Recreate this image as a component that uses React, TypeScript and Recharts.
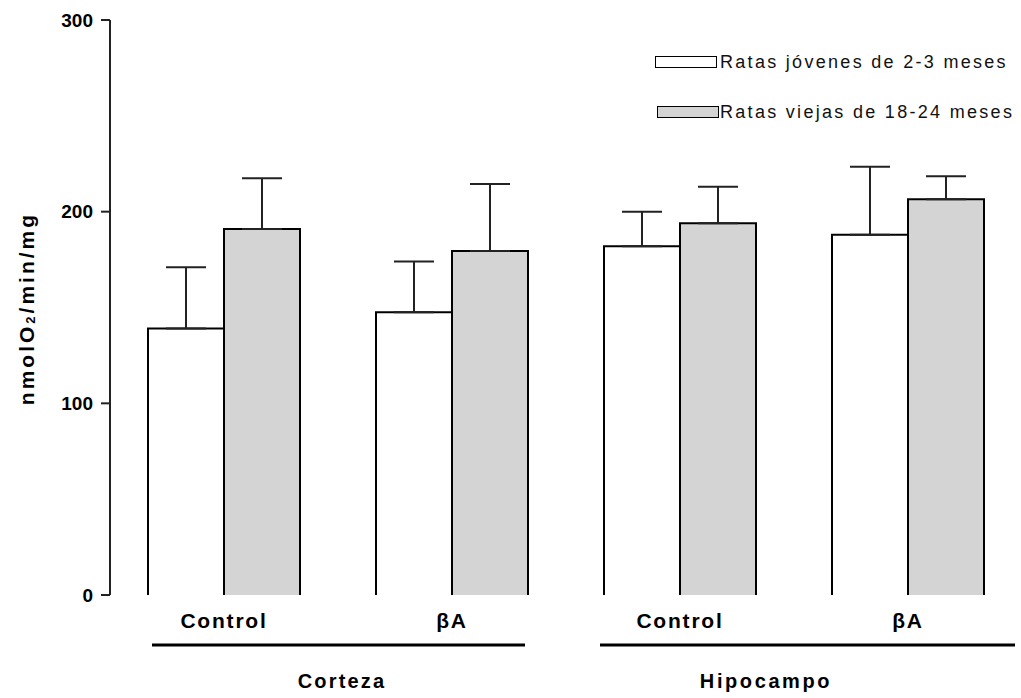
import * as React from "react"
import { BarChart, Bar, XAxis, YAxis, ErrorBar, Legend } from "recharts"

const categories = ["Control", "βA", "Control", "βA"]
const groups = ["Corteza", "Hipocampo"]
const young = [139, 147.5, 182, 188]
const youngErr = [32, 26.5, 18, 35.5]
const old = [191, 179.5, 194, 206.5]
const oldErr = [26.5, 35, 19, 12]
const yTicks = [0, 100, 200, 300]

const data = categories.map((c, i) => ({
    cat: c,
    young: young[i],
    youngErr: [0, youngErr[i]],
    old: old[i],
    oldErr: [0, oldErr[i]],
}))

const FONT = "'Liberation Sans', Arial, sans-serif"
const W = 1024
const LEFT = 110
const RIGHT = 2
const BAND = (W - LEFT - RIGHT) / categories.length

// bar with no bottom edge
const OpenBar = (p: any) => {
    const { x, y, width, height, fill } = p
    if (height == null) return null
    return (
        <g>
            <rect x={x} y={y} width={width} height={height} fill={fill} />
            <path
                d={`M${x},${y + height}V${y}H${x + width}V${y + height}`}
                fill="none"
                stroke="#000"
                strokeWidth={2}
            />
        </g>
    )
}

const CatTick = (p: any) => {
    const { x, y, payload, index } = p
    const isFirst = index % 2 === 0
    const g = Math.floor(index / 2)
    return (
        <g>
            <text
                x={x}
                y={y + 33}
                textAnchor="middle"
                fontFamily={FONT}
                fontWeight="bold"
                fontSize={21}
                letterSpacing={1.8}
                fill="#000"
            >
                {payload.value}
            </text>
            {isFirst && g === 0 && (
                <g>
                    <line x1={x - 72} x2={x + BAND + 73} y1={y + 50} y2={y + 50} stroke="#000" strokeWidth={3} />
                    <text x={x + BAND / 2 + 4} y={y + 93} textAnchor="middle" fontFamily={FONT} fontWeight="bold" fontSize={20} letterSpacing={2.2} fill="#000">
                        {groups[g]}
                    </text>
                </g>
            )}
            {isFirst && g === 1 && (
                <g>
                    <line x1={x - 80} x2={x + BAND + 107} y1={y + 50} y2={y + 50} stroke="#000" strokeWidth={3} />
                    <text x={x + BAND / 2 - 28} y={y + 93} textAnchor="middle" fontFamily={FONT} fontWeight="bold" fontSize={20} letterSpacing={2.6} fill="#000">
                        {groups[g]}
                    </text>
                </g>
            )}
        </g>
    )
}

const YLabel = (p: any) => {
    const vb = p.viewBox || { y: 20, height: 575 }
    const cy = vb.y + vb.height / 2 + 1
    return (
        <text
            x={26}
            y={cy}
            transform={`rotate(-90, 26, ${cy})`}
            textAnchor="middle"
            dominantBaseline="central"
            fontFamily={FONT}
            fontWeight="bold"
            fontSize={21}
            letterSpacing={3}
            fill="#000"
        >
            nmolO<tspan fontSize={13} dy={4}>2</tspan>
            <tspan dy={-4}>/min/mg</tspan>
        </text>
    )
}

const LegendBox = (p: any) => {
    const items = p.payload || []
    return (
        <div>
            {items.map((it: any, i: number) => (
                <div key={i} style={{ display: "flex", alignItems: "center", height: 50 }}>
                    <div
                        style={{
                            width: 60,
                            height: 10,
                            background: it.color,
                            border: "1.5px solid #000",
                            marginLeft: i === 0 ? 0 : 2,
                            marginRight: i === 0 ? 3 : 1,
                        }}
                    />
                    <span
                        style={{
                            fontFamily: FONT,
                            fontSize: 18,
                            letterSpacing: 2.3,
                            color: "#111",
                            whiteSpace: "nowrap",
                        }}
                    >
                        {it.value}
                    </span>
                </div>
            ))}
        </div>
    )
}

export default function App() {
    return (
        <div style={{ position: "absolute", left: 0, top: 0, width: 1021, height: 698, overflow: "hidden", background: "#fff" }}>
            <BarChart
                width={W}
                height={698}
                data={data}
                margin={{ top: 20, right: RIGHT, left: 0, bottom: 0 }}
                barGap={0}
                barSize={76}
            >
                <XAxis
                    dataKey="cat"
                    height={103}
                    axisLine={false}
                    tickLine={false}
                    tickSize={0}
                    tickMargin={0}
                    interval={0}
                    tick={<CatTick />}
                />
                <YAxis
                    width={LEFT}
                    domain={[0, 300]}
                    ticks={yTicks}
                    interval={0}
                    axisLine={{ stroke: "#222", strokeWidth: 2 }}
                    tickLine={{ stroke: "#222", strokeWidth: 2 }}
                    tickSize={9}
                    tickMargin={8}
                    tick={{ fontFamily: FONT, fontWeight: "bold", fontSize: 19, fill: "#000" }}
                    label={<YLabel />}
                />
                <Legend
                    layout="vertical"
                    align="center"
                    verticalAlign="middle"
                    content={<LegendBox />}
                    wrapperStyle={{ left: 655, top: 37, width: 366 }}
                />
                <Bar
                    dataKey="young"
                    name="Ratas jóvenes de 2-3 meses"
                    fill="#ffffff"
                    shape={<OpenBar />}
                    isAnimationActive={false}
                >
                    <ErrorBar dataKey="youngErr" width={20} stroke="#222" strokeWidth={2} direction="y" />
                </Bar>
                <Bar
                    dataKey="old"
                    name="Ratas viejas de 18-24 meses"
                    fill="#d4d4d4"
                    shape={<OpenBar />}
                    isAnimationActive={false}
                >
                    <ErrorBar dataKey="oldErr" width={20} stroke="#222" strokeWidth={2} direction="y" />
                </Bar>
            </BarChart>
        </div>
    )
}
